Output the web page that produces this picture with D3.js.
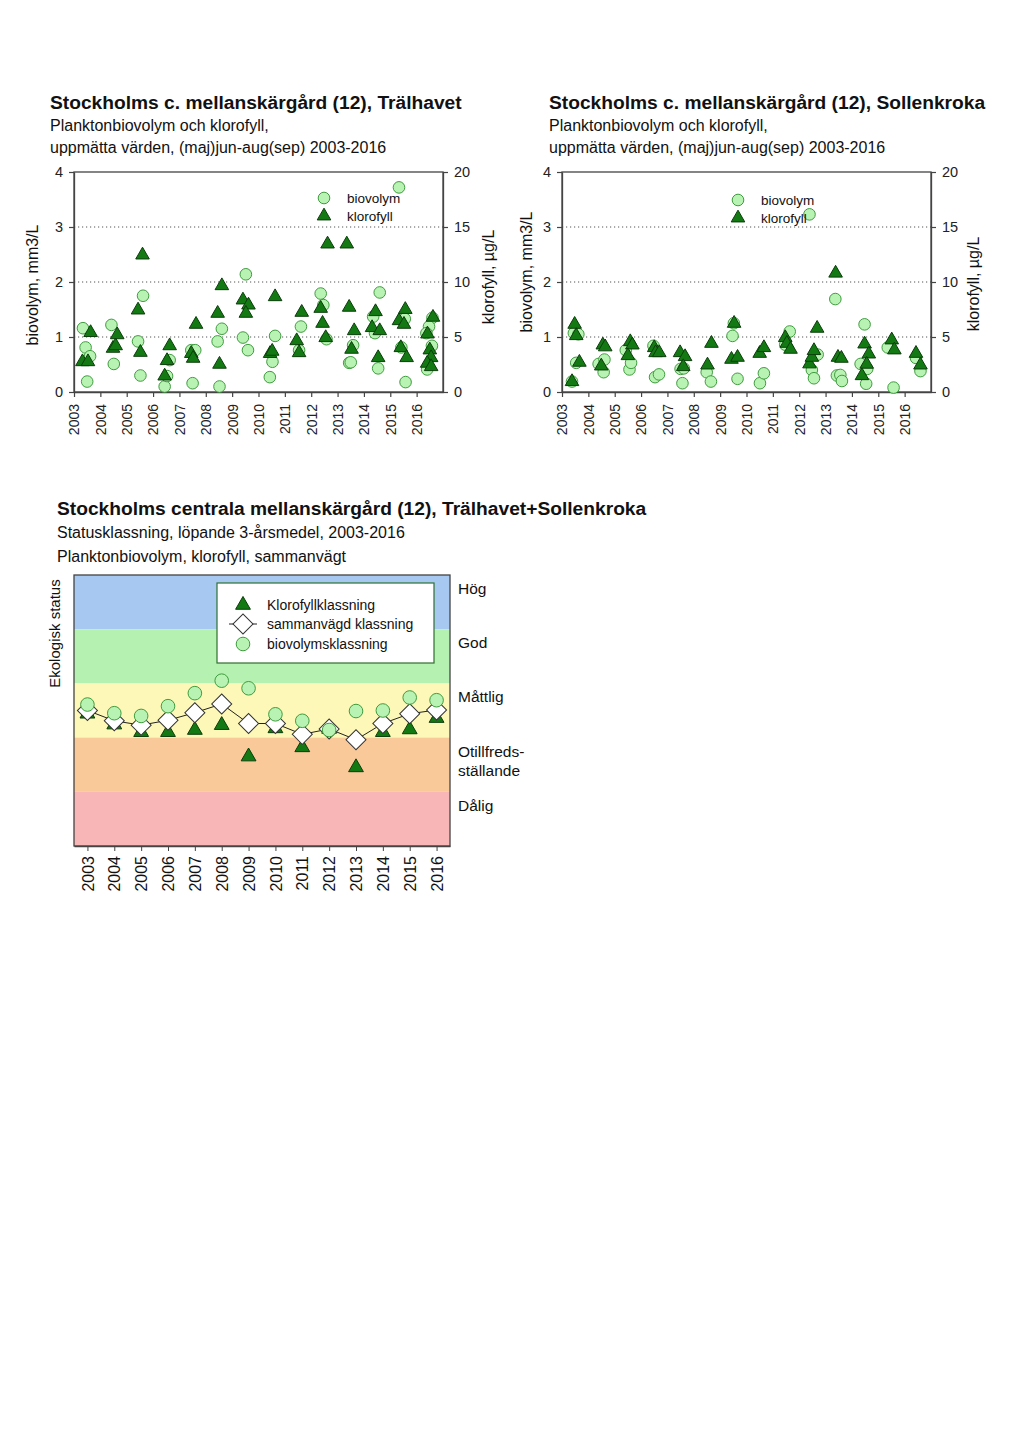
<!DOCTYPE html>
<html>
<head>
<meta charset="utf-8">
<script src="https://cdn.jsdelivr.net/npm/d3@7"></script>
<style>
  body { margin: 0; background: #fff; }
  svg { font-family: "Liberation Sans", Arial, sans-serif; fill: #111; }
</style>
</head>
<body>
<svg id="page" width="1024" height="1448"></svg>
<script>
// ---- data ----
const years = [2003, 2004, 2005, 2006, 2007, 2008, 2009, 2010, 2011, 2012, 2013, 2014, 2015, 2016];

// Trälhavet: [decimal year, biovolym mm3/L]
const tralBiovolym = [
  [2003.34, 1.16], [2003.44, 0.81], [2003.61, 0.65], [2003.50, 0.19],
  [2004.42, 1.22], [2004.51, 0.51],
  [2005.43, 0.92], [2005.62, 1.75], [2005.52, 0.30],
  [2006.44, 0.10], [2006.53, 0.29], [2006.63, 0.58],
  [2007.45, 0.76], [2007.60, 0.76], [2007.50, 0.16],
  [2008.45, 0.92], [2008.61, 1.15], [2008.52, 0.10],
  [2009.52, 2.14], [2009.41, 0.99], [2009.60, 0.76],
  [2010.63, 1.02], [2010.53, 0.55], [2010.43, 0.27],
  [2011.61, 1.19], [2011.54, 0.76],
  [2012.36, 1.79], [2012.46, 1.58], [2012.58, 0.96],
  [2013.59, 0.85], [2013.44, 0.53], [2013.50, 0.54],
  [2014.60, 1.81], [2014.35, 1.37], [2014.42, 1.07], [2014.54, 0.43],
  [2015.33, 3.72], [2015.55, 1.33], [2015.42, 0.81], [2015.58, 0.18],
  [2016.60, 1.35], [2016.47, 1.19], [2016.37, 1.07], [2016.58, 0.84], [2016.40, 0.41]
];
// Trälhavet: [decimal year, klorofyll µg/L]
const tralKlorofyll = [
  [2003.32, 2.75], [2003.53, 2.75], [2003.63, 5.4],
  [2004.48, 3.97], [2004.58, 4.2], [2004.64, 5.2],
  [2005.43, 7.45], [2005.60, 12.45], [2005.52, 3.6],
  [2006.44, 1.45], [2006.53, 2.85], [2006.63, 4.2],
  [2007.45, 3.5], [2007.52, 3.06], [2007.63, 6.15],
  [2008.45, 7.15], [2008.61, 9.66], [2008.52, 2.52],
  [2009.41, 8.36], [2009.62, 7.9], [2009.52, 7.15],
  [2010.63, 8.66], [2010.44, 3.5], [2010.52, 3.7],
  [2011.64, 7.24], [2011.45, 4.66], [2011.54, 3.57],
  [2012.36, 7.6], [2012.43, 6.24], [2012.55, 4.94], [2012.62, 13.45],
  [2013.35, 13.45], [2013.44, 7.7], [2013.63, 5.57], [2013.53, 3.88],
  [2014.44, 7.3], [2014.31, 5.85], [2014.60, 5.57], [2014.54, 3.12],
  [2015.57, 7.5], [2015.33, 6.48], [2015.52, 6.15], [2015.40, 4.03], [2015.62, 3.12],
  [2016.62, 6.79], [2016.41, 5.27], [2016.50, 3.82], [2016.55, 3.12], [2016.40, 2.61], [2016.55, 2.3]
];

// Sollenkroka
const sollBiovolym = [
  [2003.45, 1.07], [2003.62, 1.05], [2003.54, 0.53], [2003.38, 0.19],
  [2004.39, 0.51], [2004.61, 0.59], [2004.58, 0.36],
  [2005.42, 0.76], [2005.56, 0.41], [2005.62, 0.53],
  [2006.47, 0.84], [2006.53, 0.27], [2006.68, 0.32],
  [2007.50, 0.42], [2007.62, 0.43], [2007.57, 0.16],
  [2008.49, 0.36], [2008.65, 0.19],
  [2009.52, 1.25], [2009.47, 1.02], [2009.66, 0.24],
  [2010.51, 0.16], [2010.66, 0.34],
  [2011.47, 0.86], [2011.64, 1.10],
  [2012.39, 3.23], [2012.48, 0.40], [2012.56, 0.25], [2012.70, 0.68],
  [2013.37, 1.69], [2013.43, 0.30], [2013.56, 0.31], [2013.62, 0.20],
  [2014.48, 1.23], [2014.33, 0.51], [2014.58, 0.42], [2014.54, 0.15],
  [2015.36, 0.81], [2015.58, 0.08],
  [2016.43, 0.62], [2016.60, 0.38]
];
const sollKlorofyll = [
  [2003.48, 6.15], [2003.54, 5.12], [2003.66, 2.7], [2003.38, 0.94],
  [2004.55, 4.27], [2004.64, 4.1], [2004.49, 2.36],
  [2005.59, 4.57], [2005.67, 4.27], [2005.50, 3.3],
  [2006.50, 4.03], [2006.55, 3.57], [2006.69, 3.57],
  [2007.48, 3.57], [2007.67, 3.21], [2007.60, 2.3],
  [2008.52, 2.45], [2008.67, 4.42],
  [2009.53, 6.24], [2009.43, 2.97], [2009.66, 3.15],
  [2010.50, 3.51], [2010.66, 4.03],
  [2011.47, 4.94], [2011.53, 4.42], [2011.67, 3.88],
  [2012.39, 2.55], [2012.48, 3.15], [2012.56, 3.76], [2012.68, 5.79],
  [2013.38, 10.8], [2013.47, 3.15], [2013.60, 3.06],
  [2014.48, 4.36], [2014.64, 3.45], [2014.56, 2.52], [2014.38, 1.48],
  [2015.51, 4.73], [2015.61, 3.82],
  [2016.43, 3.51], [2016.60, 2.45]
];

// status classification, 0 = bottom of Dålig ... 5 = top of Hög
const statusKlorofyll = [2.44, 2.24, 2.10, 2.10, 2.14, 2.23, 1.65, 2.17, 1.82, 2.16, 1.45, 2.10, 2.15, 2.36];
const statusSammanvagd = [2.50, 2.31, 2.23, 2.32, 2.46, 2.62, 2.26, 2.26, 2.06, 2.16, 1.96, 2.26, 2.44, 2.51];
const statusBiovolym = [2.61, 2.45, 2.40, 2.58, 2.82, 3.05, 2.91, 2.43, 2.31, 2.14, 2.49, 2.50, 2.74, 2.69];
const statusClasses = [['Hög'], ['God'], ['Måttlig'], ['Otillfreds-', 'ställande'], ['Dålig']];

const bioTicks = [0, 1, 2, 3, 4];
const klorTicks = [0, 5, 10, 15, 20];
const subtitleTop = ['Planktonbiovolym och klorofyll,', 'uppmätta värden, (maj)jun-aug(sep) 2003-2016'];

// ---- styles ----
const circleFill = '#b9f3b3', circleStroke = '#3f9c3f';
const triFill = '#137a13', triStroke = '#0b3d0b';
const bandColors = ['#a7c9f1', '#b5f1b0', '#fdf8b7', '#f9c99a', '#f8b6b6'];

const svg = d3.select('#page');
const tri = d3.symbol(d3.symbolTriangle, 80);

function topChart(o) {
  const g = svg.append('g');
  const x = d3.scaleLinear().domain([2003, 2017]).range([o.x0, o.x1]);
  const yB = d3.scaleLinear().domain([0, 4]).range([392, 172]);
  const yK = d3.scaleLinear().domain([0, 20]).range([392, 172]);

  g.append('text').attr('x', o.tx).attr('y', 109)
    .attr('font-size', 19.2).attr('font-weight', 'bold').text(o.title);
  g.selectAll('text.sub').data(subtitleTop).join('text')
    .attr('class', 'sub')
    .attr('x', o.tx).attr('y', (d, i) => 131 + 22 * i)
    .attr('font-size', 16).text(d => d);

  g.append('g').selectAll('line').data([1, 2, 3]).join('line')
    .attr('x1', o.x0).attr('x2', o.x1)
    .attr('y1', yB).attr('y2', yB)
    .attr('stroke', '#555').attr('stroke-dasharray', '1.2,2.8');

  g.append('rect')
    .attr('x', o.x0).attr('y', 172).attr('width', o.x1 - o.x0).attr('height', 220)
    .attr('fill', 'none').attr('stroke', '#444').attr('stroke-width', 1.3);

  const axL = g.append('g').attr('transform', `translate(${o.x0},0)`)
    .call(d3.axisLeft(yB).tickValues(bioTicks).tickFormat(d3.format('d'))
      .tickSize(5).tickPadding(6).tickSizeOuter(0));
  const axR = g.append('g').attr('transform', `translate(${o.x1},0)`)
    .call(d3.axisRight(yK).tickValues(klorTicks).tickFormat(d3.format('d'))
      .tickSize(5).tickPadding(6).tickSizeOuter(0));
  const axB = g.append('g').attr('transform', 'translate(0,392)')
    .call(d3.axisBottom(x).tickValues(years).tickFormat(d3.format('d')).tickSize(5).tickSizeOuter(0));
  axB.selectAll('text')
    .attr('transform', 'rotate(-90)')
    .attr('text-anchor', 'end')
    .attr('x', -12).attr('y', 0).attr('dy', '0.35em');
  [axL, axR, axB].forEach(a => {
    a.select('.domain').attr('stroke', '#444').attr('stroke-width', 1.3);
    a.selectAll('line').attr('stroke', '#444').attr('stroke-width', 1.2);
    a.selectAll('text').attr('font-size', 14.5).attr('fill', '#222')
      .attr('font-family', '"Liberation Sans", Arial, sans-serif');
  });
  axB.selectAll('text').attr('font-size', 14);

  g.append('text')
    .attr('transform', `translate(${o.lx},${o.ly}) rotate(-90)`)
    .attr('text-anchor', 'middle').attr('dy', '0.35em')
    .attr('font-size', 16).text('biovolym, mm3/L');
  g.append('text')
    .attr('transform', `translate(${o.rx},${o.ry}) rotate(-90)`)
    .attr('text-anchor', 'middle').attr('dy', '0.35em')
    .attr('font-size', 16).text('klorofyll, µg/L');

  g.append('g').selectAll('circle').data(o.bio).join('circle')
    .attr('cx', d => x(d[0])).attr('cy', d => yB(d[1])).attr('r', 5.8)
    .attr('fill', circleFill).attr('stroke', circleStroke).attr('stroke-width', 1);
  g.append('g').selectAll('path').data(o.klor).join('path')
    .attr('d', tri)
    .attr('transform', d => `translate(${x(d[0])},${yK(d[1])})`)
    .attr('fill', triFill).attr('stroke', triStroke).attr('stroke-width', 1);

  // legend
  const lg = g.append('g').attr('transform', `translate(${o.legX},${o.legY})`);
  lg.append('circle').attr('cx', 0).attr('cy', 0).attr('r', 5.8)
    .attr('fill', circleFill).attr('stroke', circleStroke);
  lg.append('path').attr('d', tri).attr('transform', 'translate(0,18)')
    .attr('fill', triFill).attr('stroke', triStroke);
  lg.append('text').attr('x', 23).attr('y', 0).attr('dy', '0.35em').attr('font-size', 13.5).text('biovolym');
  lg.append('text').attr('x', 23).attr('y', 18).attr('dy', '0.35em').attr('font-size', 13.5).text('klorofyll');
}

topChart({
  title: 'Stockholms c. mellanskärgård (12), Trälhavet', tx: 50,
  x0: 74, x1: 443, bio: tralBiovolym, klor: tralKlorofyll,
  lx: 32, ly: 285, rx: 488, ry: 277, legX: 324, legY: 198
});
topChart({
  title: 'Stockholms c. mellanskärgård (12), Sollenkroka', tx: 549,
  x0: 562, x1: 931, bio: sollBiovolym, klor: sollKlorofyll,
  lx: 526, ly: 272, rx: 973, ry: 284, legX: 738, legY: 200
});

// ---- status chart ----
(function statusChart() {
  const g = svg.append('g');
  const left = 74, right = 450, top = 575, bottom = 846;
  const x = d3.scalePoint().domain(years).range([left, right]).padding(0.5);
  const y = d3.scaleLinear().domain([0, 5]).range([bottom, top]);

  g.append('text').attr('x', 57).attr('y', 515)
    .attr('font-size', 19.2).attr('font-weight', 'bold')
    .text('Stockholms centrala mellanskärgård (12), Trälhavet+Sollenkroka');
  g.append('text').attr('x', 57).attr('y', 538).attr('font-size', 16)
    .text('Statusklassning, löpande 3-årsmedel, 2003-2016');
  g.append('text').attr('x', 57).attr('y', 562).attr('font-size', 16)
    .text('Planktonbiovolym, klorofyll, sammanvägt');

  g.append('g').selectAll('rect').data(statusClasses).join('rect')
    .attr('x', left).attr('width', right - left)
    .attr('y', (d, i) => y(5 - i)).attr('height', y(0) - y(1))
    .attr('fill', (d, i) => bandColors[i]);

  g.append('rect').attr('x', left).attr('y', top)
    .attr('width', right - left).attr('height', bottom - top)
    .attr('fill', 'none').attr('stroke', '#444').attr('stroke-width', 1.3);

  const axB = g.append('g').attr('transform', `translate(0,${bottom})`)
    .call(d3.axisBottom(x).tickSize(5).tickSizeOuter(0));
  axB.select('.domain').attr('stroke', '#444').attr('stroke-width', 1.3);
  axB.selectAll('line').attr('stroke', '#444');
  axB.selectAll('text')
    .attr('transform', 'rotate(-90)').attr('text-anchor', 'end')
    .attr('x', -10).attr('y', 0).attr('dy', '0.35em')
    .attr('font-size', 16).attr('fill', '#111')
    .attr('font-family', '"Liberation Sans", Arial, sans-serif');

  g.append('text')
    .attr('transform', `translate(55,${y(3.92)}) rotate(-90)`)
    .attr('text-anchor', 'middle').attr('dy', '0.35em')
    .attr('font-size', 15).text('Ekologisk status');

  const cl = g.append('g').selectAll('text').data(statusClasses).join('text')
    .attr('x', right + 8).attr('y', (d, i) => y(5 - i) + 19)
    .attr('font-size', 15.5);
  cl.selectAll('tspan').data(d => d).join('tspan')
    .attr('x', right + 8).attr('dy', (d, i) => i ? 19 : 0).text(d => d);

  const triB = d3.symbol(d3.symbolTriangle, 95);
  g.append('g').selectAll('path').data(statusKlorofyll).join('path')
    .attr('d', triB)
    .attr('transform', (d, i) => `translate(${x(years[i])},${y(d)})`)
    .attr('fill', triFill).attr('stroke', triStroke);

  g.append('path').datum(statusSammanvagd)
    .attr('d', d3.line().x((d, i) => x(years[i])).y(d => y(d)))
    .attr('fill', 'none').attr('stroke', '#222').attr('stroke-width', 1);
  const dia = d3.symbol(d3.symbolSquare, 200);
  g.append('g').selectAll('path').data(statusSammanvagd).join('path')
    .attr('d', dia)
    .attr('transform', (d, i) => `translate(${x(years[i])},${y(d)}) rotate(45)`)
    .attr('fill', '#fff').attr('stroke', '#333').attr('stroke-width', 1);

  g.append('g').selectAll('circle').data(statusBiovolym).join('circle')
    .attr('cx', (d, i) => x(years[i])).attr('cy', d => y(d)).attr('r', 6.8)
    .attr('fill', circleFill).attr('stroke', circleStroke);

  // legend
  const lg = g.append('g').attr('transform', 'translate(217,583)');
  lg.append('rect').attr('width', 217).attr('height', 80)
    .attr('fill', '#fff').attr('stroke', '#2f6f2f').attr('stroke-width', 1.2);
  lg.append('path').attr('d', triB).attr('transform', 'translate(26,22)')
    .attr('fill', triFill).attr('stroke', triStroke);
  lg.append('line').attr('x1', 12).attr('x2', 40).attr('y1', 41).attr('y2', 41).attr('stroke', '#222');
  lg.append('path').attr('d', dia).attr('transform', 'translate(26,41) rotate(45)')
    .attr('fill', '#fff').attr('stroke', '#333');
  lg.append('circle').attr('cx', 26).attr('cy', 61).attr('r', 6.8)
    .attr('fill', circleFill).attr('stroke', circleStroke);
  lg.selectAll('text').data(['Klorofyllklassning', 'sammanvägd klassning', 'biovolymsklassning']).join('text')
    .attr('x', 50).attr('y', (d, i) => 22 + 19.5 * i).attr('dy', '0.35em')
    .attr('font-size', 14).text(d => d);
})();
</script>
</body>
</html>
